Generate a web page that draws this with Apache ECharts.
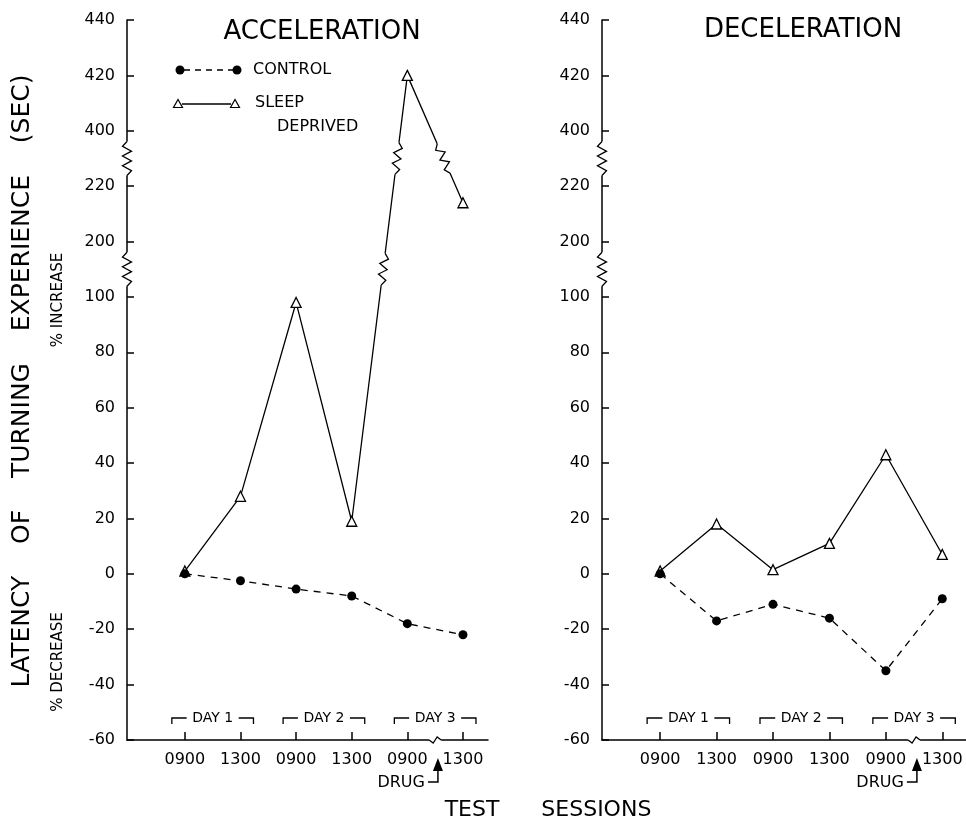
<!DOCTYPE html>
<html><head><meta charset="utf-8">
<script src="https://cdn.jsdelivr.net/npm/echarts@6/dist/echarts.min.js"></script>
<style>html,body{margin:0;padding:0;background:#fff}#c{width:966px;height:826px}</style>
</head><body><div id="c"></div>
<script>
// ---- data ----
const sessions = ['0900', '1300', '0900', '1300', '0900', '1300'];
const days = ['DAY 1', 'DAY 2', 'DAY 3'];
const daySpans = [[0, 1], [2, 3], [4, 5]];
const yTickValues = [-60, -40, -20, 0, 20, 40, 60, 80, 100, 200, 220, 400, 420, 440];
const accelControl = [0, -2.5, -5.5, -8, -18, -22];
const accelSleep = [1, 28, 98, 19, 420, 214];
const decelControl = [0, -17, -11, -16, -35, -9];
const decelSleep = [1, 18, 1.5, 11, 43, 7];
const drugSession = 4.55;

const FONT = '"DejaVu Sans", sans-serif';
function font(sz){ return 'normal ' + sz + 'px ' + FONT; }

// broken-axis scale: value -> tick position
function brk(v){
  for (let i = 0; i < yTickValues.length - 1; i++) {
    if (v <= yTickValues[i + 1]) return i + (v - yTickValues[i]) / (yTickValues[i + 1] - yTickValues[i]);
  }
  return yTickValues.length - 1;
}
const gaps = [];
for (let i = 0; i < yTickValues.length - 1; i++) {
  if (yTickValues[i + 1] - yTickValues[i] > 20) gaps.push(i + 0.5);
}

const panels = [
  {title: 'ACCELERATION', control: accelControl, sleep: accelSleep,
   grid: {left: 127, top: 20, width: 361, height: 720}, xMin: -1.04, xMax: 5.45, titleX: 322},
  {title: 'DECELERATION', control: decelControl, sleep: decelSleep,
   grid: {left: 602, top: 20, width: 364, height: 720}, xMin: -1.03, xMax: 5.42, titleX: 803}
];

const BREAK = [
  {L: 17, A: 4.5, k: 7},   // y axis
  {L: 16, A: 4, k: 6},     // data line
  {L: 6, A: 3, k: 3}       // x axis
];

function renderBreak(params, api){
  const a = api.coord([api.value(0), api.value(1)]);
  const b = api.coord([api.value(2), api.value(3)]);
  const c = api.coord([api.value(4), api.value(5)]);
  const P = BREAK[api.value(6)];
  let dx = b[0] - a[0], dy = b[1] - a[1];
  const len = Math.hypot(dx, dy); dx /= len; dy /= len;
  const nx = -dy, ny = dx;
  const pts = [];
  for (let j = 0; j <= P.k; j++) {
    const t = -P.L + 2 * P.L * j / P.k;
    const off = (j === 0 || j === P.k) ? 0 : ((j % 2) ? P.A : -P.A);
    pts.push([c[0] + dx * t + nx * off, c[1] + dy * t + ny * off]);
  }
  return {type: 'group', children: [
    {type: 'line', shape: {x1: c[0] - dx * P.L, y1: c[1] - dy * P.L, x2: c[0] + dx * P.L, y2: c[1] + dy * P.L},
     style: {stroke: '#fff', lineWidth: 5}},
    {type: 'polyline', shape: {points: pts}, style: {stroke: '#000', lineWidth: 1.3, fill: null}}
  ]};
}

function renderDay(params, api){
  const p0 = api.coord([api.value(0), 0]);
  const p1 = api.coord([api.value(1), 0]);
  const y = p0[1] - 22;
  const xl = p0[0] - 13, xr = p1[0] + 13, xm = (xl + xr) / 2, hw = 26;
  const st = {stroke: '#000', lineWidth: 1.3, fill: null};
  return {type: 'group', children: [
    {type: 'polyline', shape: {points: [[xl, y + 6], [xl, y], [xm - hw, y]]}, style: st},
    {type: 'polyline', shape: {points: [[xm + hw, y], [xr, y], [xr, y + 6]]}, style: st},
    {type: 'text', style: {text: days[params.dataIndex], x: xm, y: y, font: font(14), fill: '#000',
      align: 'center', verticalAlign: 'middle', textAlign: 'center', textVerticalAlign: 'middle'}}
  ]};
}

function renderDrug(params, api){
  const p = api.coord([api.value(0), 0]);
  const x = p[0], y = p[1];
  return {type: 'group', children: [
    {type: 'polygon', shape: {points: [[x, y + 18], [x - 5, y + 31], [x + 5, y + 31]]}, style: {fill: '#000'}},
    {type: 'polyline', shape: {points: [[x, y + 30], [x, y + 42], [x - 10, y + 42]]}, style: {stroke: '#000', lineWidth: 1.5, fill: null}},
    {type: 'text', style: {text: 'DRUG', x: x - 13, y: y + 43, font: font(16), fill: '#000',
      align: 'right', verticalAlign: 'middle', textAlign: 'right', textVerticalAlign: 'middle'}}
  ]};
}

const grids = [], xAxes = [], yAxes = [], series = [];
const axisLineStyle = {color: '#000', width: 1.5};
panels.forEach((pn, gi) => {
  grids.push(Object.assign({containLabel: false}, pn.grid));
  xAxes.push({
    type: 'value', gridIndex: gi, min: pn.xMin, max: pn.xMax,
    axisLine: {show: true, onZero: false, lineStyle: axisLineStyle},
    axisTick: {show: true, inside: true, length: 8, lineStyle: axisLineStyle, customValues: [0, 1, 2, 3, 4, 5]},
    axisLabel: {show: true, customValues: [0, 1, 2, 3, 4, 5], color: '#000', fontSize: 16, fontFamily: FONT, margin: 12,
      formatter: v => sessions[Math.round(v)]},
    splitLine: {show: false}
  });
  yAxes.push({
    type: 'value', gridIndex: gi, min: 0, max: yTickValues.length - 1, interval: 1,
    axisLine: {show: true, onZero: false, lineStyle: axisLineStyle},
    axisTick: {show: true, inside: true, length: 7, lineStyle: axisLineStyle},
    axisLabel: {color: '#000', fontSize: 16, fontFamily: FONT, margin: 12,
      formatter: v => String(yTickValues[Math.round(v)])},
    splitLine: {show: false}
  });
  series.push({
    type: 'line', name: 'SLEEP DEPRIVED', xAxisIndex: gi, yAxisIndex: gi,
    data: pn.sleep.map((v, i) => [i, brk(v)]),
    symbol: 'triangle', symbolSize: 10,
    itemStyle: {color: '#fff', borderColor: '#000', borderWidth: 1.3},
    lineStyle: {color: '#000', width: 1.3}, z: 2
  });
  series.push({
    type: 'line', name: 'CONTROL', xAxisIndex: gi, yAxisIndex: gi,
    data: pn.control.map((v, i) => [i, brk(v)]),
    symbol: 'circle', symbolSize: 9,
    itemStyle: {color: '#000', borderColor: '#000', borderWidth: 0},
    lineStyle: {color: '#000', width: 1.3, type: [7, 6]}, z: 3
  });
  // break marks
  const bdata = [];
  gaps.forEach(g => bdata.push([pn.xMin, g - 0.5, pn.xMin, g + 0.5, pn.xMin, g, 0]));
  const sp = pn.sleep.map(brk);
  for (let i = 0; i < sp.length - 1; i++) {
    gaps.forEach(g => {
      if ((sp[i] - g) * (sp[i + 1] - g) < 0) {
        const t = (g - sp[i]) / (sp[i + 1] - sp[i]);
        bdata.push([i, sp[i], i + 1, sp[i + 1], i + t, g, 1]);
      }
    });
  }
  bdata.push([4, 0, 5, 0, 4.5, 0, 2]);
  series.push({type: 'custom', xAxisIndex: gi, yAxisIndex: gi, renderItem: renderBreak, data: bdata,
    encode: {x: 0, y: 1}, z: 5, silent: true, clip: false});
  series.push({type: 'custom', xAxisIndex: gi, yAxisIndex: gi, renderItem: renderDay,
    data: daySpans, encode: {x: 0, y: 1}, z: 5, silent: true, clip: false});
  series.push({type: 'custom', xAxisIndex: gi, yAxisIndex: gi, renderItem: renderDrug,
    data: [[drugSession, 0]], encode: {x: 0, y: 1}, z: 5, silent: true, clip: false});
});

function txt(text, x, y, sz, align, rot){
  return {type: 'text', x: x, y: y, rotation: rot || 0, silent: true,
    style: {text: text, x: 0, y: 0, font: font(sz), fill: '#000',
      align: align || 'center', verticalAlign: 'middle', textAlign: align || 'center', textVerticalAlign: 'middle'}};
}
const graphics = [
  txt(panels[0].title, panels[0].titleX, 32, 26),
  txt(panels[1].title, panels[1].titleX, 30, 26),
  txt('LATENCY    OF    TURNING    EXPERIENCE    (SEC)', 22, 381, 25, 'center', Math.PI / 2),
  txt('% INCREASE', 58, 300, 15, 'center', Math.PI / 2),
  txt('% DECREASE', 58, 662, 15, 'center', Math.PI / 2),
  txt('TEST      SESSIONS', 548, 810, 22),
  // legend
  {type: 'line', silent: true, shape: {x1: 184, y1: 70, x2: 233, y2: 70}, style: {stroke: '#000', lineWidth: 1.3, lineDash: [6, 5]}},
  {type: 'circle', silent: true, shape: {cx: 180, cy: 70, r: 4.5}, style: {fill: '#000'}},
  {type: 'circle', silent: true, shape: {cx: 237, cy: 70, r: 4.5}, style: {fill: '#000'}},
  txt('CONTROL', 253, 70, 16, 'left'),
  {type: 'line', silent: true, shape: {x1: 182, y1: 104, x2: 231, y2: 104}, style: {stroke: '#000', lineWidth: 1.3}},
  {type: 'polygon', silent: true, shape: {points: [[178, 99.5], [173.5, 107.5], [182.5, 107.5]]}, style: {fill: '#fff', stroke: '#000', lineWidth: 1.2}},
  {type: 'polygon', silent: true, shape: {points: [[235, 99.5], [230.5, 107.5], [239.5, 107.5]]}, style: {fill: '#fff', stroke: '#000', lineWidth: 1.2}},
  txt('SLEEP', 255, 103, 16, 'left'),
  txt('DEPRIVED', 277, 127, 16, 'left')
];

const chart = echarts.init(document.getElementById('c'));
chart.setOption({
  backgroundColor: '#fff',
  animation: false,
  grid: grids, xAxis: xAxes, yAxis: yAxes, series: series,
  graphic: graphics
});
</script></body></html>
